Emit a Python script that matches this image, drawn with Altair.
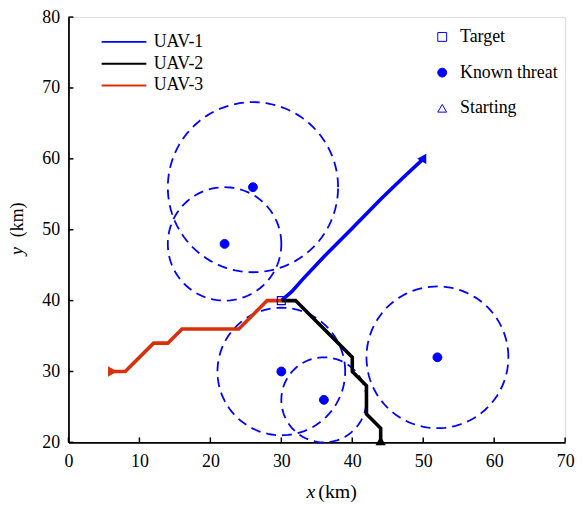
import altair as alt
import pandas as pd
import numpy as np

# ---------------- data ----------------
uav_names = ["UAV-1", "UAV-2", "UAV-3"]
uav_colors = ["#0000ff", "#000000", "#d9300c"]

uav1_x = [30, 31.5, 33, 36, 40, 44, 47, 50]
uav1_y = [40, 41.3, 43, 46.2, 50.2, 54.3, 57.2, 60]
uav2_x = [30, 32, 40, 40, 42, 42, 44, 44]
uav2_y = [40, 40, 32, 30, 28, 24, 22, 20]
uav3_x = [30, 28, 24, 16, 14, 12, 8, 6]
uav3_y = [40, 40, 36, 36, 34, 34, 30, 30]

threat_x = [26, 22, 30, 36, 52]
threat_y = [56, 48, 30, 26, 32]
threat_r = [12, 8, 9, 6, 10]

target_x = [30]
target_y = [40]

start_x = [50, 44, 6]
start_y = [60, 20, 30]

kinds = ["Target", "Known threat", "Starting"]

x_ticks = [0, 10, 20, 30, 40, 50, 60, 70]
y_ticks = [20, 30, 40, 50, 60, 70, 80]

W, H = 501, 429
FONT = "Liberation Serif"
BLUE = "#0000ff"

# ---------------- tables ----------------
rows = []
for name, xs_, ys_ in zip(uav_names, [uav1_x, uav2_x, uav3_x], [uav1_y, uav2_y, uav3_y]):
    for i, (a, b) in enumerate(zip(xs_, ys_)):
        rows.append({"uav": name, "x": a, "y": b, "i": i})
paths = pd.DataFrame(rows)

crow = []
ang = np.linspace(0, 2 * np.pi, 121)
for k, (cx, cy, r) in enumerate(zip(threat_x, threat_y, threat_r)):
    for j, t in enumerate(ang):
        crow.append({"c": k, "j": j, "x": cx + r * np.cos(t), "y": cy + r * np.sin(t)})
circles = pd.DataFrame(crow)

threats = pd.DataFrame({"x": threat_x, "y": threat_y, "kind": "Known threat"})
targets = pd.DataFrame({"x": target_x, "y": target_y, "kind": "Target"})
starts = pd.DataFrame({"x": start_x, "y": start_y, "uav": uav_names})

xs = alt.Scale(domain=[0, 70], nice=False, zero=False)
ys = alt.Scale(domain=[20, 80], nice=False, zero=False)

x_axis = alt.Axis(values=x_ticks, title=None, ticks=False, grid=False, labelPadding=10,
                  domainColor="black", domainWidth=1.8, labelFont=FONT, labelFontSize=18,
                  labelColor="black", labelFlush=False)
y_axis = alt.Axis(values=y_ticks, title=None, ticks=False, grid=False, labelPadding=9,
                  domainColor="black", domainWidth=1.8, labelFont=FONT, labelFontSize=18,
                  labelColor="black", labelFlush=False)

color_scale = alt.Scale(domain=uav_names, range=uav_colors)
color_legend = alt.Legend(title=None, orient="none", legendX=47, legendY=16,
                          symbolType="M-4,0L4,0", symbolSize=127, symbolStrokeWidth=2,
                          labelFont=FONT, labelFontSize=18, labelColor="black",
                          labelOffset=21, rowPadding=4, padding=0)

kind_legend = alt.Legend(title=None, orient="none", legendX=368, legendY=11,
                         symbolSize=80, symbolStrokeWidth=1,
                         labelFont=FONT, labelFontSize=18, labelColor="black",
                         labelOffset=9, rowPadding=18, padding=0)
shape_enc = alt.Shape("kind:N", scale=alt.Scale(domain=kinds, range=["square", "circle", "triangle-up"]),
                      legend=kind_legend)
fill_enc = alt.Fill("kind:N", scale=alt.Scale(domain=kinds, range=["transparent", BLUE, "transparent"]),
                    legend=kind_legend)
stroke_enc = alt.Stroke("kind:N", scale=alt.Scale(domain=kinds, range=[BLUE, BLUE, BLUE]),
                        legend=kind_legend)

# ---------------- layers ----------------
circ = alt.Chart(circles).mark_line(color=BLUE, strokeWidth=1.8, strokeDash=[10, 6]).encode(
    x=alt.X("x:Q", scale=xs, axis=x_axis),
    y=alt.Y("y:Q", scale=ys, axis=y_axis),
    detail="c:N",
    order="j:Q",
)

lines = alt.Chart(paths).mark_line(strokeWidth=3.6).encode(
    x=alt.X("x:Q", scale=xs),
    y=alt.Y("y:Q", scale=ys),
    color=alt.Color("uav:N", scale=color_scale, legend=color_legend),
    order="i:Q",
)

threat_pts = alt.Chart(threats).mark_point(size=80, strokeWidth=1, opacity=1).encode(
    x="x:Q", y="y:Q", shape=shape_enc, fill=fill_enc, stroke=stroke_enc,
)
target_pts = alt.Chart(targets).mark_point(size=64, strokeWidth=1.2, opacity=1).encode(
    x="x:Q", y="y:Q", shape=shape_enc, fill=fill_enc, stroke=stroke_enc,
)

start_layers = []
for name, angle in zip(uav_names, [270, 0, 90]):
    start_layers.append(
        alt.Chart(starts[starts.uav == name]).mark_point(
            shape="triangle", angle=angle, size=110, filled=True, opacity=1
        ).encode(
            x="x:Q", y="y:Q",
            color=alt.Color("uav:N", scale=color_scale, legend=None),
        )
    )

xt = alt.Chart(pd.DataFrame({"v": x_ticks})).mark_rule(color="black", strokeWidth=1.5).encode(
    x="v:Q", y=alt.value(H), y2=alt.value(H - 5))
yt = alt.Chart(pd.DataFrame({"v": y_ticks})).mark_rule(color="black", strokeWidth=1.5).encode(
    y="v:Q", x=alt.value(0), x2=alt.value(5))

one = pd.DataFrame({"t": [""]})
tstyle = dict(font=FONT, color="black", baseline="middle")
xt1 = alt.Chart(one).mark_text(text="x", align="right", fontStyle="italic", fontSize=20, **tstyle).encode(
    x=alt.value(249), y=alt.value(H + 50))
xt2 = alt.Chart(one).mark_text(text="(km)", align="left", fontSize=20, **tstyle).encode(
    x=alt.value(252), y=alt.value(H + 50))
yt1 = alt.Chart(one).mark_text(text="y", align="left", angle=270, fontStyle="italic", fontSize=18, **tstyle).encode(
    x=alt.value(-51), y=alt.value(240))
yt2 = alt.Chart(one).mark_text(text="(km)", align="left", angle=270, fontSize=18, **tstyle).encode(
    x=alt.value(-51), y=alt.value(222))

chart = alt.layer(
    circ, lines, threat_pts, target_pts, *start_layers, xt, yt, xt1, xt2, yt1, yt2
).resolve_scale(color="shared").properties(
    width=W, height=H,
    autosize=alt.AutoSizeParams(type="none"),
    padding={"left": 61, "top": 7, "right": 15, "bottom": 60},
).configure_view(stroke=None).configure(background="white")

chart.save("out.html", embed_options={"renderer": "svg", "actions": False})
